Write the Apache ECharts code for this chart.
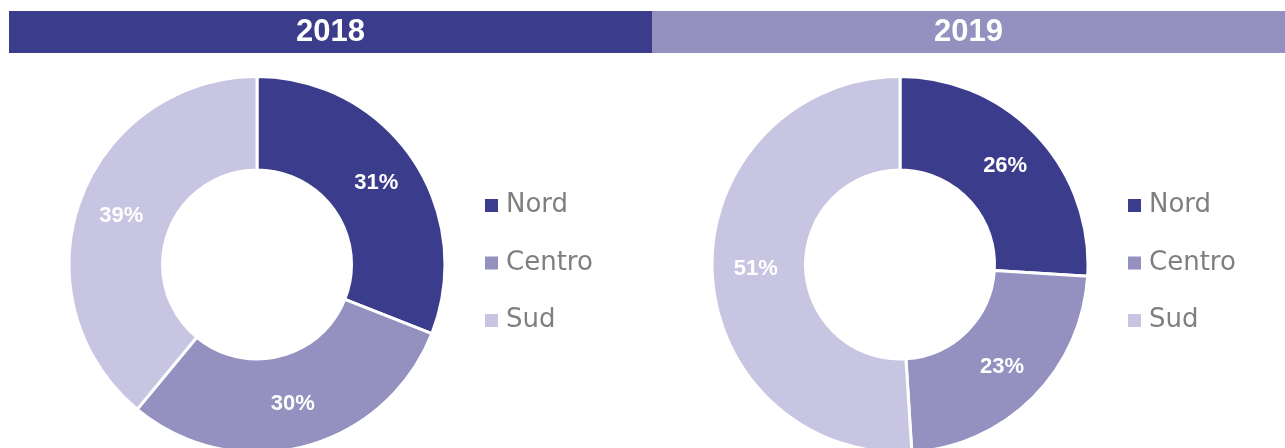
<!DOCTYPE html>
<html>
<head>
<meta charset="utf-8">
<script src="https://cdn.jsdelivr.net/npm/echarts@6/dist/echarts.min.js"></script>
<style>
  html, body { margin: 0; padding: 0; background: #fff; }
  #main { width: 1285px; height: 448px; }
</style>
</head>
<body>
<div id="main"></div>
<script>
  // data
  const regions = ['Nord', 'Centro', 'Sud'];
  const years = ['2018', '2019'];
  const values2018 = [31, 30, 39];
  const values2019 = [26, 23, 51];
  const colors = ['#3b3c8b', '#9490bf', '#c7c5e1'];

  const chart = echarts.init(document.getElementById('main'));

  function header(x, w, color, label) {
    return {
      type: 'group',
      children: [
        { type: 'rect', shape: { x: x, y: 11, width: w, height: 42 }, style: { fill: color } },
        {
          type: 'text',
          x: x + w / 2,
          y: 32,
          style: {
            text: label,
            fill: '#fff',
            font: 'bold 31px "Liberation Sans", Arial, sans-serif',
            textAlign: 'center',
            textVerticalAlign: 'middle'
          }
        }
      ]
    };
  }

  function pieSeries(name, values, cx) {
    return {
      name: name,
      type: 'pie',
      center: [cx, 264.5],
      radius: [94.5, 188],
      startAngle: 90,
      clockwise: true,
      avoidLabelOverlap: false,
      itemStyle: { borderColor: '#fff', borderWidth: 3 },
      label: {
        show: true,
        position: 'inside',
        formatter: '{c}%',
        color: '#fff',
        fontFamily: '"Liberation Sans", Arial, sans-serif',
        fontWeight: 'bold',
        fontSize: 22
      },
      labelLine: { show: false },
      emphasis: { scale: false },
      data: regions.map((r, i) => ({ name: r, value: values[i], itemStyle: { color: colors[i] } }))
    };
  }

  function legend(left) {
    return {
      orient: 'vertical',
      left: left,
      top: 187.5,
      icon: 'rect',
      itemWidth: 15,
      itemHeight: 15,
      itemGap: 31.5,
      data: regions,
      selectedMode: false,
      textStyle: {
        color: '#7f7f7f',
        fontFamily: '"DejaVu Sans", sans-serif',
        fontSize: 26,
        lineHeight: 26,
        padding: [0, 0, 0, 2]
      }
    };
  }

  chart.setOption({
    animation: false,
    color: colors,
    graphic: [
      header(9, 643, '#3b3c8b', years[0]),
      header(652, 633, '#9490bf', years[1])
    ],
    legend: [legend(478), legend(1121)],
    series: [
      pieSeries(years[0], values2018, 257),
      pieSeries(years[1], values2019, 900)
    ]
  });
</script>
</body>
</html>
